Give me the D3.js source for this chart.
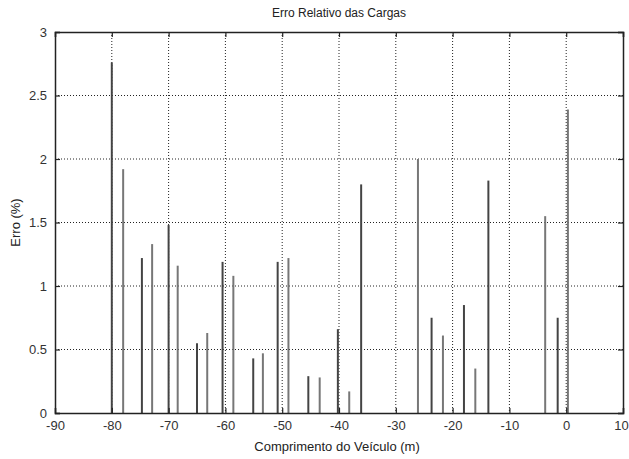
<!DOCTYPE html>
<html>
<head>
<meta charset="utf-8">
<script src="https://cdn.jsdelivr.net/npm/d3@7"></script>
<style>
  html, body { margin: 0; padding: 0; background: #fff; }
  svg { display: block; font-family: "Liberation Sans", Arial, sans-serif; }
</style>
</head>
<body>
<svg id="chart" width="629" height="459"></svg>
<script>
const title = "Erro Relativo das Cargas";
const xLabel = "Comprimento do Veículo (m)";
const yLabel = "Erro (%)";
const positions = [-80, -78, -74.7, -72.9, -70, -68.4, -65, -63.2, -60.5, -58.6, -55.1, -53.4, -50.8, -48.9, -45.4, -43.4, -40.2, -38.2, -36.1, -26.1, -23.7, -21.7, -18, -16, -13.7, -3.7, -1.5, 0.3];
const errors    = [2.76, 1.92, 1.22, 1.33, 1.48, 1.16, 0.55, 0.63, 1.19, 1.08, 0.43, 0.47, 1.19, 1.22, 0.29, 0.28, 0.66, 0.17, 1.80, 2.00, 0.75, 0.61, 0.85, 0.35, 1.83, 1.55, 0.75, 2.39];
const xTicks = [-90, -80, -70, -60, -50, -40, -30, -20, -10, 0, 10];
const yTicks = [0, 0.5, 1, 1.5, 2, 2.5, 3];

const svg = d3.select("#chart");
const L = 55, R = 623, T = 32, B = 413;
const x = d3.scaleLinear().domain([-90, 10]).range([L, R]);
const y = d3.scaleLinear().domain([0, 3]).range([B, T]);

// grid
const grid = svg.append("g");
grid.selectAll("line.gx").data(xTicks.slice(1, -1)).join("line")
  .attr("x1", d => x(d)).attr("x2", d => x(d)).attr("y1", T).attr("y2", B)
  .attr("stroke", "#222").attr("stroke-width", 1).attr("stroke-dasharray", "1,2");
grid.selectAll("line.gy").data(yTicks.slice(1, -1)).join("line")
  .attr("y1", d => y(d)).attr("y2", d => y(d)).attr("x1", L).attr("x2", R)
  .attr("stroke", "#222").attr("stroke-width", 1).attr("stroke-dasharray", "1,2");

// stems
svg.append("g").selectAll("line").data(positions.map((p, i) => ({p, v: errors[i], i}))).join("line")
  .attr("x1", d => x(d.p)).attr("x2", d => x(d.p))
  .attr("y1", y(0)).attr("y2", d => y(d.v))
  .attr("stroke", d => d.i % 2 === 0 ? "#444" : "#777")
  .attr("stroke-width", 2);

// axes (ticks inward, mirrored)
const fmt = d => String(d);
const axB = svg.append("g").attr("transform", `translate(0,${B})`)
  .call(d3.axisBottom(x).tickValues(xTicks).tickSize(-5).tickPadding(8).tickFormat(fmt));
const axT = svg.append("g").attr("transform", `translate(0,${T})`)
  .call(d3.axisTop(x).tickValues(xTicks).tickSize(-5).tickFormat(""));
const axL = svg.append("g").attr("transform", `translate(${L},0)`)
  .call(d3.axisLeft(y).tickValues(yTicks).tickSize(-5).tickPadding(8).tickFormat(fmt));
const axR = svg.append("g").attr("transform", `translate(${R},0)`)
  .call(d3.axisRight(y).tickValues(yTicks).tickSize(-5).tickFormat(""));
[axB, axT, axL, axR].forEach(a => {
  a.select(".domain").attr("stroke", "#222").attr("stroke-width", 1.5);
  a.selectAll(".tick line").attr("stroke", "#222").attr("stroke-width", 1.2);
  a.selectAll("text").attr("fill", "#333").style("font-size", "13px")
    .style("font-family", "'Liberation Sans', Arial, sans-serif");
});
axB.selectAll("text").attr("dy", "0.71em");
// keep last x label inside the window
axB.selectAll(".tick").filter(d => d === 10).select("text").attr("x", -2);

// labels
svg.append("text").attr("x", (L + R) / 2).attr("y", 17).attr("text-anchor", "middle")
  .style("font-size", "12px").attr("fill", "#222").text(title);
svg.append("text").attr("x", (L + R) / 2 - 2).attr("y", 451).attr("text-anchor", "middle")
  .style("font-size", "13px").attr("fill", "#222").text(xLabel);
svg.append("text").attr("transform", `translate(20,${(T + B) / 2}) rotate(-90)`)
  .attr("text-anchor", "middle").style("font-size", "13px").attr("fill", "#222").text(yLabel);
</script>
</body>
</html>
